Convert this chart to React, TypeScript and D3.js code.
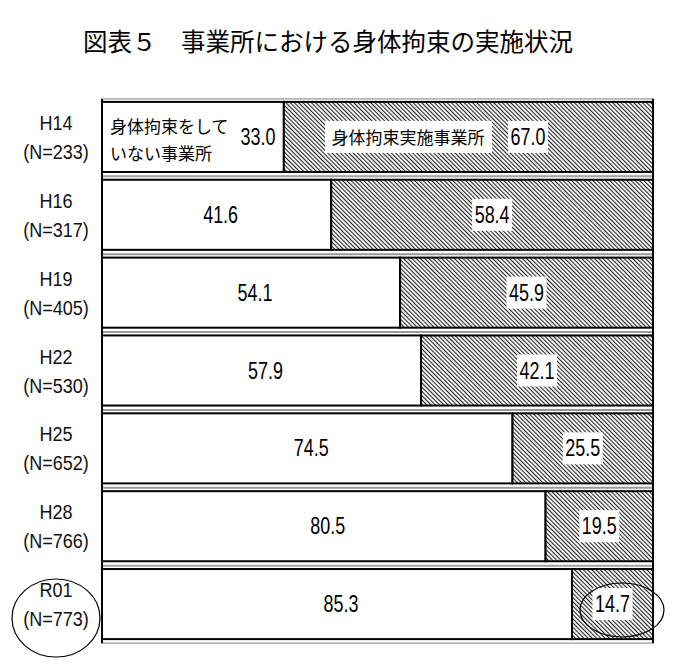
import { useEffect } from "react";
import { scaleLinear, scaleBand } from "d3";

const categories = ["H14", "H16", "H19", "H22", "H25", "H28", "R01"];
const sampleSizes = ["(N=233)", "(N=317)", "(N=405)", "(N=530)", "(N=652)", "(N=766)", "(N=773)"];
const notRestraining = [33.0, 41.6, 54.1, 57.9, 74.5, 80.5, 85.3];
const restraining = [67.0, 58.4, 45.9, 42.1, 25.5, 19.5, 14.7];
const title = "図表５　事業所における身体拘束の実施状況";
const seriesNames = ["身体拘束をして", "いない事業所", "身体拘束実施事業所"];

const W = 680;
const H = 668;
const numFont = "'Liberation Sans', Arial, sans-serif";
const jpFont = "'Noto Sans CJK JP', sans-serif";

// narrow text: Liberation Sans squeezed horizontally
const Narrow = ({ x, y, size, sx, children, fill = "#000" }: any) => (
  <text
    transform={`translate(${x},${y}) scale(${sx},1)`}
    textAnchor="middle"
    fontFamily={numFont}
    fontSize={size}
    fill={fill}
  >
    {children}
  </text>
);

export default function App() {
  useEffect(() => {
    document.body.style.margin = "0";
  }, []);

  const x = scaleLinear().domain([0, 100]).range([102, 653]);
  const y = scaleBand<string>()
    .domain(categories)
    .range([98, 643])
    .paddingInner(0.1)
    .paddingOuter(0.05);
  const bw = y.bandwidth();
  const lastBottom = y(categories[categories.length - 1])! + bw + 4;

  return (
    <svg width={W} height={H} style={{ display: "block", background: "#fff" }}>
      <defs>
        <pattern
          id="hatch"
          patternUnits="userSpaceOnUse"
          width={3}
          height={4}
          patternTransform="rotate(-45)"
        >
          <rect width={3} height={4} fill="#fff" />
          <rect width={1.1} height={4} fill="#222" />
        </pattern>
      </defs>

      <text
        x={328}
        y={51}
        textAnchor="middle"
        fontFamily={jpFont}
        fontSize={24.5}
        fill="#000"
      >
        {title}
      </text>

      {/* grey guide lines above / below each bar */}
      {categories.map((c) => {
        const top = y(c)!;
        return (
          <g key={"g" + c}>
            <line x1={101} x2={654} y1={top - 3} y2={top - 3} stroke="#999" strokeWidth={1.2} />
            <line x1={101} x2={654} y1={top + bw + 4} y2={top + bw + 4} stroke="#999" strokeWidth={1.2} />
          </g>
        );
      })}

      {categories.map((c, i) => {
        const top = y(c)!;
        const mid = top + bw / 2;
        const split = x(notRestraining[i]);
        const first = i === 0;
        const leftLabelX = first ? 258 : (x(0) + split) / 2 + 4;
        const rightLabelX = first ? 528 : (split + x(100)) / 2;
        return (
          <g key={c}>
            <rect x={x(0)} y={top} width={split - x(0)} height={bw} fill="#fff" stroke="#000" strokeWidth={2} />
            <rect x={split} y={top} width={x(100) - split} height={bw} fill="url(#hatch)" stroke="#000" strokeWidth={2} />

            <Narrow x={56} y={mid - 7} size={21} sx={0.86} fill="#111">
              {c}
            </Narrow>
            <Narrow x={56} y={mid + 22} size={21} sx={0.86} fill="#111">
              {sampleSizes[i]}
            </Narrow>

            <Narrow x={leftLabelX} y={mid + 8} size={23} sx={0.78}>
              {notRestraining[i].toFixed(1)}
            </Narrow>

            <rect x={rightLabelX - 20} y={mid - 16} width={40} height={32} fill="#fff" />
            <Narrow x={rightLabelX} y={mid + 8} size={23} sx={0.78}>
              {restraining[i].toFixed(1)}
            </Narrow>

            {first && (
              <g fontFamily={jpFont} fontSize={17} fill="#000">
                <text x={110} y={top + 31}>{seriesNames[0]}</text>
                <text x={110} y={top + 58}>{seriesNames[1]}</text>
                <rect x={325} y={mid - 16} width={167} height={32} fill="#fff" />
                <text x={408} y={mid + 7} textAnchor="middle">{seriesNames[2]}</text>
              </g>
            )}
          </g>
        );
      })}

      {/* vertical frame lines */}
      <line x1={x(0)} x2={x(0)} y1={99} y2={lastBottom} stroke="#000" strokeWidth={2} />
      <line x1={x(100)} x2={x(100)} y1={99} y2={lastBottom} stroke="#000" strokeWidth={2} />

      {/* highlight ellipses on the latest year */}
      <ellipse cx={56} cy={618} rx={44} ry={39} fill="none" stroke="#000" strokeWidth={1.2} />
      <ellipse cx={622} cy={610} rx={42} ry={27} fill="none" stroke="#000" strokeWidth={1.2} />
    </svg>
  );
}
